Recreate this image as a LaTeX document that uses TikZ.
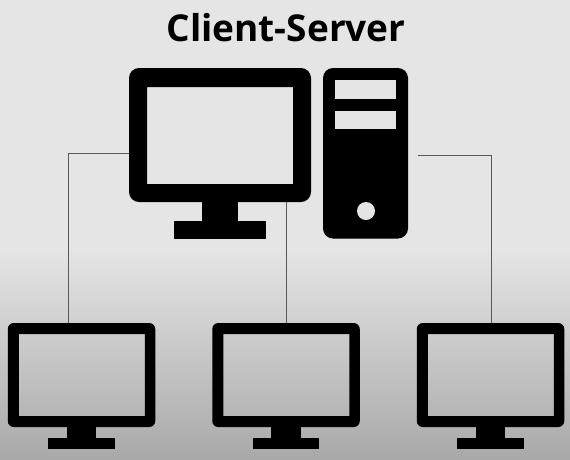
\documentclass[tikz,border=0pt]{standalone}
\usepackage{fontspec}
\usetikzlibrary{positioning}
\setmainfont{Open Sans}
\definecolor{wall}{HTML}{E5E5E5}
\definecolor{wallend}{HTML}{A9A9A9}
\tikzset{
  bezel/.style  = {rectangle, inner sep=0pt, outer sep=0pt},
  bar/.style    = {rectangle, fill=black, inner sep=0pt, outer sep=0pt},
  slot/.style   = {rectangle, fill=wall, inner sep=0pt, minimum width=61pt, minimum height=18.5pt},
  client/.style = {bezel, minimum width=147.5pt, minimum height=104pt},
  wire/.style   = {draw=black!65, line width=0.9pt},
  title/.style  = {font=\bfseries\fontsize{37}{40}\selectfont, inner sep=0pt}
}

\begin{document}
\begin{tikzpicture}[x=1pt, y=-1pt]
  \useasboundingbox (0,0) rectangle (570,459);
  % backdrop
  \fill [wall] (0,0) rectangle (570,251);
  \shade [top color=wall, bottom color=wallend] (0,250) rectangle (570,459);

  \node [title] (heading) at (286,28) {Client-Server};

  % server screen
  \node [bezel, minimum width=182pt, minimum height=134pt] (server) at (220,135) {};
  \fill [even odd rule, rounded corners=10pt] (server.north west) rectangle (server.south east)
    [sharp corners] (147,87) rectangle (293,184);
  \node [bar, minimum width=36pt, minimum height=19pt, below=-0.5pt of server.south] (serverneck) {};
  \node [bar, minimum width=92pt, minimum height=18.5pt, below=0pt of serverneck.south] (serverbase) {};

  % tower
  \node [bar, rounded corners=10pt, minimum width=85pt, minimum height=170.5pt] (tower) at (365.5,153.25) {};
  \node [slot] (slota) at (365.5,89.5) {};
  \node [slot] (slotb) at (365.5,120) {};
  \node [circle, fill=wall, inner sep=0pt, minimum size=18pt] (button) at (366,211) {};

  % clients
  \foreach \name/\px in {clienta/81.5, clientb/286, clientc/490.5} {
    \node [client] (\name) at (\px,375) {};
    \fill [even odd rule, rounded corners=6pt] (\name.north west) rectangle (\name.south east)
      [sharp corners] ([shift={(11pt,-11pt)}]\name.north west) rectangle ([shift={(-10.5pt,11pt)}]\name.south east);
    \node [bar, minimum width=29.5pt, minimum height=11.5pt, below=-0.5pt of \name.south] (\name neck) {};
    \node [bar, minimum width=66.5pt, minimum height=11pt, below=0pt of \name neck.south] (\name base) {};
  }

  % wires
  \coordinate (towerout) at (418,155.5);
  \draw [wire] ([yshift=-18pt]server.west) -| ([xshift=-13.5pt]clienta.north);
  \draw [wire] (clientb.north) -- (clientb.north |- server.south);
  \draw [wire] (towerout) -| ([xshift=1pt]clientc.north);
\end{tikzpicture}
\end{document}
